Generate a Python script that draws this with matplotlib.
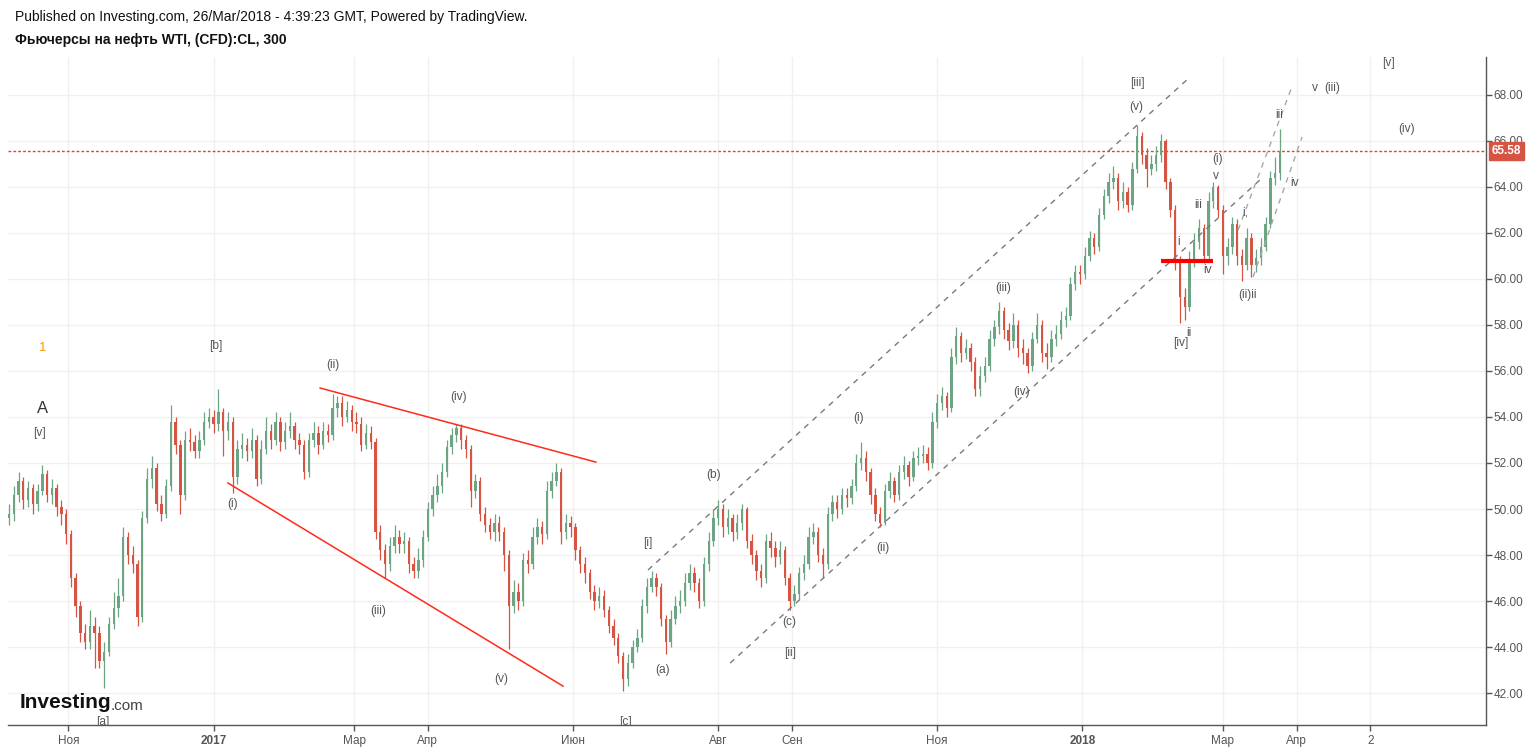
import numpy as np
import pandas as pd
import matplotlib
matplotlib.use("Agg")
import matplotlib.pyplot as plt
import matplotlib.dates as mdates
from matplotlib.transforms import blended_transform_factory

plt.rcParams['font.family'] = ['Liberation Sans', 'DejaVu Sans']

# ---- data, one bar every 2 days from start ----
start = '2016-10-07'
first_open = 49.6
last_price = 65.58

close = [
    49.8, 50.6, 51.2, 50.4, 50.9, 50.2, 50.8, 51.5, 50.6, 50.9,
    50.1, 49.8, 48.9, 47.0, 45.8, 44.6, 44.2, 44.9, 44.6, 43.4,
    43.8, 45.0, 45.7, 46.2, 48.8, 48.0, 47.6, 45.3, 49.6, 51.3,
    51.8, 50.2, 49.8, 51.0, 53.8, 52.8, 50.6, 53.0, 52.9, 52.5,
    53.0, 53.8, 54.0, 53.7, 54.2, 53.4, 53.8, 51.4, 52.6, 52.8,
    52.5, 53.0, 51.3, 52.6, 53.4, 53.0, 53.8, 52.9, 53.4, 53.6,
    53.0, 52.8, 51.6, 53.0, 53.3, 52.8, 53.4, 53.2, 54.4, 54.6,
    54.0, 54.3, 53.8, 53.7, 52.8, 53.3, 52.9, 49.0, 48.2, 47.6,
    48.4, 48.8, 48.5, 48.6, 47.6, 47.3, 47.8, 48.8, 50.0, 50.6,
    51.0, 51.6, 52.7, 53.2, 53.5, 53.0, 52.6, 50.8, 51.2, 49.8,
    49.3, 49.0, 49.4, 49.0, 48.0, 45.8, 46.4, 46.0, 47.8, 47.6,
    48.8, 49.2, 48.9, 50.8, 51.2, 51.6, 49.0, 49.4, 49.2, 48.2,
    47.6, 47.2, 46.4, 46.0, 46.2, 45.6, 44.9, 44.4, 43.6, 42.6,
    43.3, 44.0, 44.4, 45.8, 46.6, 47.0, 46.6, 45.2, 44.2, 45.2,
    45.8, 46.0, 46.8, 47.2, 46.8, 46.0, 47.6, 48.6, 49.6, 50.0,
    49.2, 49.6, 49.0, 49.4, 50.0, 48.6, 48.0, 47.3, 47.0, 48.6,
    48.3, 47.9, 48.2, 47.0, 46.0, 46.3, 47.2, 47.6, 48.8, 49.0,
    48.0, 47.6, 49.8, 50.3, 50.0, 50.6, 50.5, 51.0, 52.0, 52.2,
    51.6, 50.6, 49.8, 49.4, 50.8, 51.2, 50.6, 51.6, 51.9, 51.4,
    52.2, 52.3, 52.4, 52.0, 53.8, 54.6, 54.9, 54.4, 56.6, 57.5,
    56.8, 57.0, 56.4, 55.2, 55.8, 56.2, 57.4, 57.9, 58.6, 57.8,
    57.3, 58.0, 57.0, 56.8, 56.2, 57.4, 58.0, 56.8, 56.6, 57.4,
    57.6, 58.2, 58.4, 59.8, 60.3, 60.2, 61.0, 61.8, 61.4, 62.8,
    63.6, 64.2, 64.4, 63.4, 63.8, 63.2, 64.8, 66.2, 65.4, 64.8,
    65.0, 65.4, 66.0, 64.2, 63.0, 60.8, 59.2, 58.8, 60.8, 61.6,
    62.2, 61.0, 63.4, 64.0, 63.0, 61.0, 61.4, 62.4, 61.0, 60.6,
    61.8, 60.6, 60.9, 61.4, 62.4, 64.4, 64.6, 65.58,
]

high = [
    50.2, 51.0, 51.6, 51.4, 51.2, 51.1, 51.1, 51.9, 51.7, 51.3,
    51.1, 50.4, 50.0, 49.1, 47.2, 46.0, 45.0, 45.6, 45.3, 44.9,
    44.2, 45.3, 46.4, 47.0, 49.2, 49.0, 48.4, 47.8, 49.9, 51.8,
    52.3, 52.0, 50.6, 51.3, 54.5, 54.0, 53.0, 53.4, 53.5, 53.2,
    53.4, 54.2, 54.4, 54.3, 55.2, 54.4, 54.2, 54.0, 53.0, 53.3,
    53.1, 53.5, 53.2, 53.0, 54.0, 53.7, 54.2, 54.0, 53.8, 54.2,
    53.8, 53.3, 53.0, 53.3, 53.8, 53.6, 53.8, 53.7, 55.0, 54.9,
    54.9, 54.7, 54.5, 54.2, 54.0, 53.7, 53.6, 53.1, 49.3, 48.5,
    48.8, 49.3, 49.1, 49.0, 48.8, 47.9, 48.3, 49.1, 50.3, 51.0,
    51.5, 52.0, 53.0, 53.5, 53.7, 53.7, 53.2, 52.8, 51.5, 51.4,
    50.1, 49.6, 49.8, 49.7, 49.2, 48.2, 46.9, 46.8, 48.1, 48.2,
    49.2, 49.6, 49.5, 51.2, 51.6, 52.0, 51.8, 49.8, 49.7, 49.4,
    48.4, 47.9, 47.4, 46.7, 46.6, 46.5, 45.8, 45.2, 44.6, 43.8,
    43.7, 44.3, 44.8, 46.1, 47.0, 47.3, 47.2, 46.8, 45.4, 45.6,
    46.2, 46.5, 47.2, 47.6, 47.5, 47.0, 47.9, 49.0, 50.0, 50.4,
    50.2, 50.0, 49.8, 49.8, 50.2, 50.1, 48.9, 48.2, 47.6, 48.9,
    49.0, 48.6, 48.6, 48.4, 47.2, 46.7, 47.5, 48.0, 49.2, 49.4,
    49.2, 48.3, 50.1, 50.6, 50.6, 50.9, 50.9, 51.3, 52.4, 52.9,
    52.5, 51.8, 50.9, 50.1, 51.1, 51.6, 51.4, 51.9, 52.3, 52.1,
    52.5, 52.7, 52.8, 52.7, 54.2, 55.0, 55.3, 55.1, 57.0, 57.9,
    57.7, 57.4, 57.2, 56.6, 56.2, 56.6, 57.8, 58.2, 59.0, 58.8,
    58.1, 58.5, 58.2, 57.4, 57.0, 57.7, 58.5, 58.2, 57.2, 57.8,
    58.0, 58.6, 58.8, 60.1, 60.6, 60.6, 61.4, 62.1, 62.0, 63.1,
    63.9, 64.6, 64.9, 64.6, 64.2, 64.0, 65.1, 66.7, 66.4, 65.7,
    65.4, 65.8, 66.3, 66.1, 64.4, 63.2, 61.0, 59.6, 61.2, 62.0,
    62.6, 62.4, 63.8, 64.2, 64.1, 63.2, 61.8, 62.7, 62.6, 61.3,
    62.2, 62.0, 61.3, 61.8, 62.7, 64.7, 65.3, 66.5,
]

low = [
    49.3, 49.5, 50.3, 50.0, 50.1, 49.8, 49.9, 50.6, 50.3, 50.2,
    49.7, 49.3, 48.5, 46.6, 45.3, 44.2, 43.9, 43.9, 43.1, 43.1,
    42.2, 43.6, 44.8, 45.3, 46.0, 47.6, 47.2, 44.9, 45.1, 49.4,
    50.9, 49.9, 49.5, 49.6, 50.8, 52.4, 49.8, 50.4, 52.5, 52.2,
    52.2, 52.8, 53.5, 53.3, 53.4, 52.3, 53.0, 50.7, 51.1, 52.2,
    52.1, 52.2, 51.0, 51.1, 52.4, 52.6, 52.8, 52.5, 52.6, 53.1,
    52.6, 52.4, 51.3, 51.4, 52.7, 52.4, 52.6, 52.9, 53.0, 54.0,
    53.6, 53.8, 53.4, 53.3, 52.5, 52.6, 52.6, 48.7, 47.8, 47.0,
    47.3, 48.1, 48.1, 48.1, 47.2, 47.0, 47.0, 47.5, 48.6, 49.7,
    50.3, 50.7, 51.4, 52.4, 52.9, 52.6, 52.2, 50.1, 50.5, 49.5,
    49.0, 48.7, 48.6, 48.6, 47.3, 43.9, 45.5, 45.6, 45.8, 47.2,
    47.4, 48.5, 48.5, 48.7, 50.5, 51.0, 48.5, 48.7, 48.8, 47.8,
    47.2, 46.8, 46.1, 45.6, 45.7, 45.3, 44.6, 44.1, 43.3, 42.1,
    42.3, 43.1, 43.8, 44.2, 45.5, 46.4, 46.2, 44.9, 43.7, 44.0,
    45.0, 45.5, 45.8, 46.5, 46.4, 45.7, 45.8, 47.3, 48.4, 49.3,
    48.8, 48.9, 48.6, 48.7, 49.1, 48.3, 47.6, 46.9, 46.6, 46.8,
    47.9, 47.5, 47.6, 46.7, 45.6, 45.8, 46.1, 46.9, 47.4, 48.5,
    47.7, 47.0, 47.4, 49.5, 49.6, 49.8, 50.1, 50.2, 50.8, 51.7,
    51.2, 50.2, 49.5, 49.2, 49.3, 50.5, 50.3, 50.4, 51.3, 51.0,
    51.2, 51.9, 52.0, 51.7, 51.8, 53.5, 54.3, 54.0, 54.2, 56.3,
    56.4, 56.5, 56.0, 54.9, 54.9, 55.5, 56.0, 57.1, 57.6, 57.4,
    56.9, 57.0, 56.6, 56.3, 55.9, 56.0, 57.2, 56.4, 56.1, 56.4,
    57.1, 57.4, 57.9, 58.2, 59.5, 59.8, 60.0, 60.8, 61.1, 61.2,
    62.6, 63.3, 63.9, 63.0, 63.1, 62.9, 63.0, 64.6, 65.0, 64.0,
    64.5, 64.7, 65.1, 63.9, 62.7, 60.4, 58.1, 58.2, 58.6, 60.5,
    61.3, 60.7, 60.8, 63.1, 62.7, 60.2, 60.6, 61.1, 60.6, 59.9,
    60.4, 60.1, 60.3, 60.6, 61.2, 62.2, 64.1, 64.3,
]

price_ticks = np.arange(42, 69, 2)
tick_dates = ['2016-11-01', '2017-01-01', '2017-03-01', '2017-04-01',
              '2017-06-01', '2017-08-01', '2017-09-01', '2017-11-01',
              '2018-01-01', '2018-03-01', '2018-04-01', '2018-05-02']
tick_labels = ['Ноя', '2017', 'Мар', 'Апр', 'Июн', 'Авг', 'Сен', 'Ноя',
               '2018', 'Мар', 'Апр', '2']

# wave count labels: (text, date, price)
waves = [
    ('[v]', '2016-10-20', 53.3), ('[a]', '2016-11-15 12:00', 40.75),
    ('[b]', '2017-01-02', 57.09), ('(i)', '2017-01-09', 50.22),
    ('(ii)', '2017-02-20', 56.26), ('(iii)', '2017-03-11', 45.57),
    ('(iv)', '2017-04-14', 54.87), ('(v)', '2017-05-02', 42.61),
    ('[c]', '2017-06-23', 40.75), ('[i]', '2017-07-02 12:00', 48.52),
    ('(a)', '2017-07-08 10:00', 43.0), ('(b)', '2017-07-30', 51.48),
    ('(c)', '2017-08-31', 45.09), ('[ii]', '2017-08-31', 43.74),
    ('(i)', '2017-09-29', 53.96), ('(ii)', '2017-10-09', 48.3),
    ('(iii)', '2017-11-28 14:00', 59.61), ('(iv)', '2017-12-06 14:00', 55.09),
    ('[iii]', '2018-01-24', 68.52), ('(v)', '2018-01-23 12:00', 67.48),
    ('[iv]', '2018-02-11 10:00', 57.22), ('ii', '2018-02-14 19:00', 57.65),
    ('i', '2018-02-10 14:00', 61.61), ('iii', '2018-02-18 14:00', 63.22),
    ('iv', '2018-02-22 19:00', 60.39), ('(i)', '2018-02-27', 65.22),
    ('v', '2018-02-26', 64.48), ('(ii)ii', '2018-03-11 14:00', 59.3),
    ('i,', '2018-03-10 07:00', 62.87), ('iii', '2018-03-24 14:00', 67.13),
    ('iv', '2018-03-31', 64.17), ('v', '2018-04-08 17:00', 68.3),
    ('(iii)', '2018-04-15 22:00', 68.3), ('[v]', '2018-05-09 19:00', 69.39),
    ('(iv)', '2018-05-17 10:00', 66.52),
]

# drawn lines: (date0, price0, date1, price1)
red_lines = [('2017-02-14 17:00', 55.26, '2017-06-10 14:00', 52.04),
             ('2017-01-07', 51.13, '2017-05-27 19:00', 42.30)]
channel_lines = [('2017-07-02 12:00', 47.35, '2018-02-14 19:00', 68.74),
                 ('2017-08-06', 43.30, '2018-03-17 12:00', 64.39)]
steep_lines = [('2018-03-07 10:00', 62.13, '2018-03-30', 68.35),
               ('2018-03-13 17:00', 60.09, '2018-04-03 07:00', 66.17)]
support = ('2018-02-03', '2018-02-24 22:00', 60.78)

UP = '#6BA583'
DOWN = '#D75442'
TXT = '#555555'


def dn(s):
    return mdates.date2num(pd.Timestamp(s))


fig = plt.figure(figsize=(15.33, 7.49), dpi=100)
ax = fig.add_axes([8 / 1533, 24 / 749, 1478 / 1533, 668 / 749])

# candles
x = mdates.date2num(pd.date_range(start, periods=len(close), freq='2D'))
c = np.array(close)
o = np.r_[first_open, c[:-1]]
h = np.maximum(high, np.maximum(o, c))
l = np.minimum(low, np.minimum(o, c))
cols = np.where(c >= o, UP, DOWN)
ax.vlines(x, l, h, colors=cols, lw=0.9, zorder=3)
body = np.maximum(np.abs(c - o), 0.06)
ax.bar(x, body, bottom=np.minimum(o, c), width=1.0, color=cols,
       lw=0, zorder=3)

# last price line + label
ax.axhline(last_price, color='#E0442E', lw=1, ls=(0, (2, 1.5)), zorder=2)
tr = blended_transform_factory(ax.transAxes, ax.transData)
ax.text(1.004, last_price, '%.2f' % last_price, transform=tr, ha='left',
        va='center', color='white', fontsize=8.5, fontweight='bold',
        bbox=dict(boxstyle='square,pad=0.25', fc=DOWN, ec=DOWN),
        clip_on=False, zorder=5)

# trend lines
for d0, p0, d1, p1 in red_lines:
    ax.plot([dn(d0), dn(d1)], [p0, p1], color='#FF2A1A', lw=1.1, zorder=4)
for d0, p0, d1, p1 in channel_lines:
    ax.plot([dn(d0), dn(d1)], [p0, p1], color='#7A7A7A', lw=1,
            ls=(0, (4, 4)), zorder=4)
for d0, p0, d1, p1 in steep_lines:
    ax.plot([dn(d0), dn(d1)], [p0, p1], color='#A8A8A8', lw=1,
            ls=(0, (4, 4)), zorder=4)
ax.plot([dn(support[0]), dn(support[1])], [support[2]] * 2,
        color='#FF0000', lw=3, zorder=4, solid_capstyle='butt')

# wave labels
for txt, d, p in waves:
    ax.text(dn(d), p, txt, ha='center', va='center', fontsize=8.6,
            color=TXT, zorder=6, clip_on=True)
ax.text(dn('2016-10-21'), 54.35, 'A', ha='center', va='center',
        fontsize=12, color='#333333', zorder=6)
ax.text(dn('2016-10-21'), 57.0, '1', ha='center', va='center',
        fontsize=9.5, color='#FF9800', zorder=6)

# axes styling
ax.set_xlim(dn('2016-10-06 14:00'), dn('2018-06-19 14:00'))
ax.set_ylim(40.61, 69.65)
ax.yaxis.tick_right()
ax.set_yticks(price_ticks)
ax.set_yticklabels(['%.2f' % v for v in price_ticks])
ax.set_xticks([dn(d) for d in tick_dates])
ax.set_xticklabels(tick_labels)
for lab in ax.get_xticklabels():
    if lab.get_text() in ('2017', '2018'):
        lab.set_fontweight('bold')
ax.tick_params(axis='both', colors=TXT, labelsize=8.5, length=4,
               width=1, labelcolor=TXT)
ax.tick_params(axis='x', pad=3)
ax.tick_params(axis='y', pad=1.5)
ax.grid(True, color='#F0F0F0', lw=1, zorder=0)
ax.set_axisbelow(True)
for s in ('top', 'left'):
    ax.spines[s].set_visible(False)
for s in ('bottom', 'right'):
    ax.spines[s].set_color('#555555')
    ax.spines[s].set_linewidth(1)

# header
fig.text(15 / 1533, 1 - 17 / 749,
         'Published on Investing.com, 26/Mar/2018 - 4:39:23 GMT, '
         'Powered by TradingView.', fontsize=10, color='#111111',
         va='center', ha='left')
fig.text(15 / 1533, 1 - 40 / 749, 'Фьючерсы на нефть WTI, (CFD):CL, 300',
         fontsize=10, fontweight='bold', color='#111111', va='center',
         ha='left')

# logo
fig.text(20 / 1533, 1 - 703 / 749, 'Investing', fontsize=15,
         fontweight='bold', color='#111111', va='center', ha='left')
fig.text(111 / 1533, 1 - 706 / 749, '.com', fontsize=11,
         color='#444444', va='center', ha='left')

fig.savefig('out.png', dpi=100, facecolor='white')
